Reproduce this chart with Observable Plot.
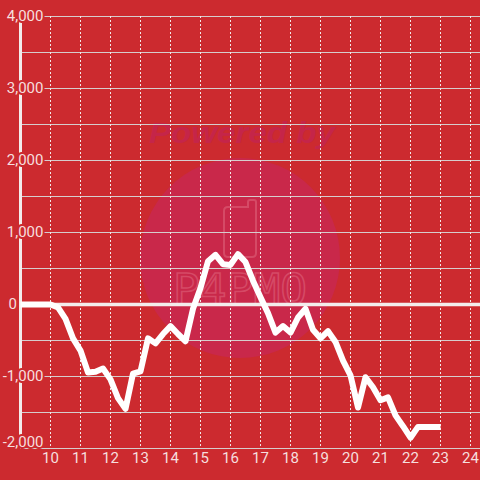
<!DOCTYPE html>
<html><head><meta charset="utf-8">
<script src="https://cdn.jsdelivr.net/npm/d3@7"></script>
<script src="https://cdn.jsdelivr.net/npm/@observablehq/plot@0.6"></script>
<style>html,body{margin:0;padding:0;background:#cc2a2f;} #chart{width:480px;height:480px;}</style>
</head><body><div id="chart"></div>
<script>
// time of day (hours) and running difference values
const hours = [
  9.00, 9.25, 9.50, 9.75,
  10.00, 10.25, 10.50, 10.75,
  11.00, 11.25, 11.50, 11.75,
  12.00, 12.25, 12.50, 12.75,
  13.00, 13.25, 13.50, 13.75,
  14.00, 14.25, 14.50, 14.75,
  15.00, 15.25, 15.50, 15.75,
  16.00, 16.25, 16.50, 16.75,
  17.00, 17.25, 17.50, 17.75,
  18.00, 18.25, 18.50, 18.75,
  19.00, 19.25, 19.50, 19.75,
  20.00, 20.25, 20.50, 20.75,
  21.00, 21.25, 21.50, 21.75,
  22.00, 22.25, 22.50, 22.75,
  23.00
];
const diff = [
  0, 0, 0, 0,
  0, -40, -200, -470,
  -640, -945, -935, -890,
  -1040, -1300, -1450, -960,
  -930, -470, -540, -410,
  -300, -410, -510, -60,
  230, 600, 690, 560,
  550, 700, 590, 330,
  100, -120, -390, -300,
  -390, -180, -60, -350,
  -470, -370, -520, -780,
  -985, -1430, -1010, -1150,
  -1330, -1290, -1540, -1690,
  -1850, -1700, -1700, -1700,
  -1700
];
const xTicks = [10, 11, 12, 13, 14, 15, 16, 17, 18, 19, 20, 21, 22, 23, 24];
const yGrid = [4000, 3500, 3000, 2500, 2000, 1500, 1000, 500, 0, -500, -1000, -1500, -2000];
const yLabels = [4000, 3000, 2000, 1000, 0, -1000, -2000];

const data = hours.map((h, i) => ({hour: h, diff: diff[i]}));
const BG = "#cc2a2f";
const LABEL = "#f6dede";
const fmt = d3.formatLocale({decimal: ".", thousands: ",", grouping: [3], currency: ["", ""], minus: "-"}).format(",");
const labelStyle = {fill: LABEL, stroke: BG, strokeWidth: 4, paintOrder: "stroke", fontSize: 15};

const chart = Plot.plot({
  width: 480, height: 480,
  marginLeft: 20, marginRight: 0, marginTop: 16, marginBottom: 32,
  style: {background: BG, fontFamily: "Roboto, 'Liberation Sans', sans-serif", fontSize: "14px", overflow: "visible"},
  x: {domain: [9, 24 + 1/3], axis: null},
  y: {domain: [-2000, 4000], axis: null},
  marks: [
    Plot.ruleY(yGrid, {stroke: "#d6cdcd", strokeWidth: 1}),
    Plot.ruleX(xTicks, {stroke: "#f2e8e8", strokeWidth: 1, strokeDasharray: "2,2"}),
    Plot.ruleX([9], {stroke: "#f3ecec", strokeWidth: 3}),
    Plot.ruleY([0], {stroke: "#f3ecec", strokeWidth: 3.5}),
    Plot.line(data, {x: "hour", y: "diff", stroke: "#ffffff", strokeWidth: 6, strokeLinejoin: "round", strokeLinecap: "butt"}),
    Plot.text(yLabels.filter(d => d !== 0 && d !== -2000), {x: 9, y: d => d, text: d => fmt(d), textAnchor: "end", dx: 23, ...labelStyle}),
    Plot.text(yLabels.filter(d => d === -2000), {x: 9, y: d => d, text: d => fmt(d), textAnchor: "end", dx: 23, dy: -6, ...labelStyle}),
    Plot.text(yLabels.filter(d => d === 0), {x: 9, y: d => d, text: d => fmt(d), textAnchor: "start", dx: -12, ...labelStyle}),
    Plot.text(xTicks, {x: d => d, frameAnchor: "bottom", dy: 14, text: d => String(d), fill: LABEL, fontSize: 15})
  ]
});

// watermark behind the grid
const svg = d3.select(chart);
const wm = svg.insert("g", "g");
wm.append("circle").attr("cx", 240).attr("cy", 258).attr("r", 100).attr("fill", "#c9284a");
wm.append("text").attr("x", 242).attr("y", 143).attr("text-anchor", "middle")
  .attr("font-size", 30).attr("font-weight", "bold").attr("font-style", "italic")
  .attr("font-family", "'Liberation Sans', Arial, sans-serif")
  .attr("fill", "#c52549").attr("textLength", 186).attr("lengthAdjust", "spacingAndGlyphs").text("Powered by");
wm.append("path")
  .attr("d", "M224,211 Q224,207 228,207 L248,207 L248,202 Q248,200 250,200 L254,200 Q256,200 256,202 L256,253 Q256,257 252,257 L228,257 Q224,257 224,253 Z")
  .attr("fill", "none").attr("stroke", "#d54a66").attr("stroke-width", 2);
wm.append("text").attr("x", 240).attr("y", 304).attr("text-anchor", "middle")
  .attr("font-size", 42).attr("font-family", "'DejaVu Sans Mono', monospace")
  .attr("fill", "none").attr("stroke", "#d54a66").attr("stroke-width", 1.5)
  .attr("textLength", 134).attr("lengthAdjust", "spacingAndGlyphs").text("P4PMO");

document.getElementById("chart").appendChild(chart);
</script>
</body></html>
